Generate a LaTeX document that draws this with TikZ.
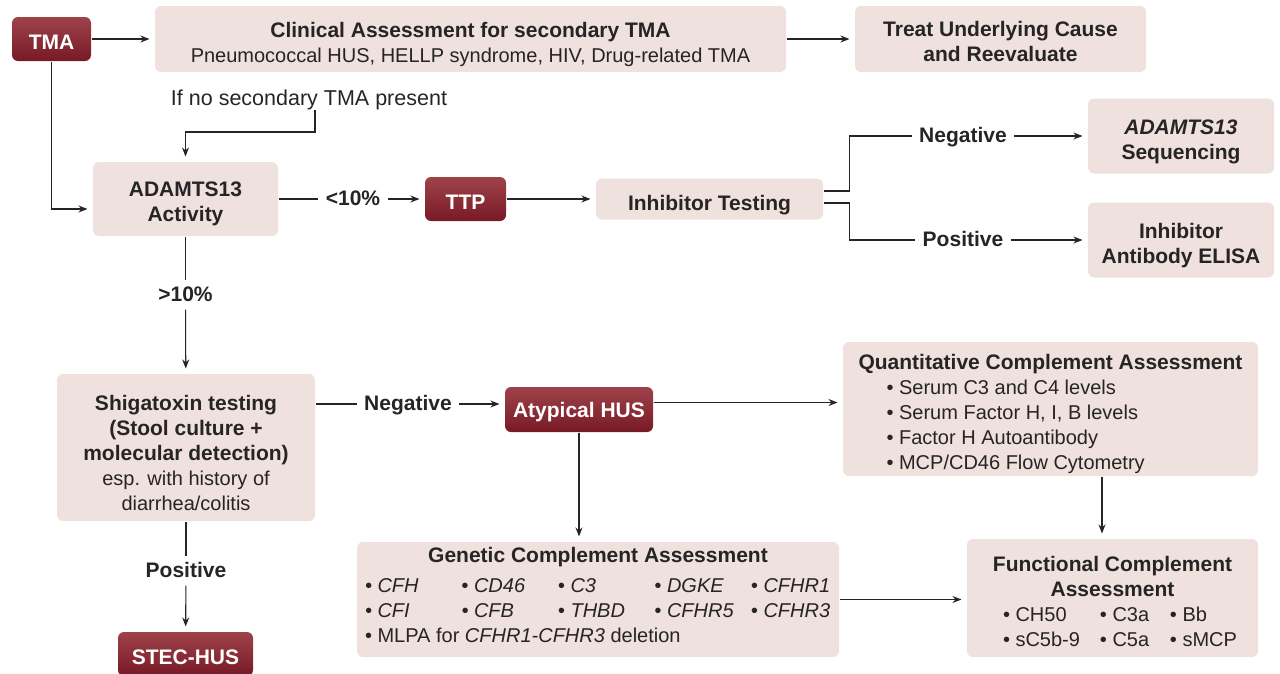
\documentclass[tikz,border=0pt]{standalone}
\usepackage{fontspec}
\setmainfont{Liberation Sans}
\usetikzlibrary{arrows.meta,positioning}

\definecolor{boxpink}{RGB}{238,225,222}
\definecolor{darkred}{RGB}{120,26,38}
\definecolor{lightred}{RGB}{158,66,74}
\definecolor{inkgray}{RGB}{38,36,36}
\newcommand{\regtxt}{\fontsize{20}{25}\selectfont\mdseries}
\newcommand{\boldtxt}{\fontsize{21}{25}\selectfont\bfseries}

\tikzset{
  textdown/.style={execute at begin node={\vbox\bgroup\kern#1\hbox\bgroup},
    execute at end node={\egroup\egroup}},
  pinkbox/.style={fill=boxpink, rounded corners=6pt, align=center, inner sep=0pt, font=\boldtxt, textdown=10pt},
  redbox/.style={top color=lightred, bottom color=darkred, draw=none, rounded corners=6pt, text=white,
    inner sep=0pt, font=\boldtxt, textdown=6pt},
  lbl/.style={inner xsep=7pt, inner ysep=5pt, text height=15pt, text depth=3pt, font=\boldtxt},
  arr/.style={-{Stealth[length=9pt,width=7pt]}, shorten >=5pt},
}

\begin{document}
\begin{tikzpicture}[x=1pt, y=-1pt, color=inkgray, line width=1.1pt]
  \useasboundingbox (0,0) rectangle (1280,673);

  % top row
  \node[redbox, minimum width=79pt, minimum height=44pt] (tma) at (51.5,39) {TMA};
  \node[pinkbox, minimum width=631pt, minimum height=66pt] (clin) at (470.5,39)
    {Clinical Assessment for secondary TMA\\ \regtxt Pneumococcal HUS, HELLP syndrome, HIV, Drug-related TMA};
  \node[pinkbox, minimum width=291pt, minimum height=66pt, textdown=-5pt] (treat) at (1000.5,39)
    {Treat Underlying Cause\\and Reevaluate};
  \node[inner sep=2pt, font=\fontsize{21.5}{25}\selectfont] (ifno) at (309,100) {If no secondary TMA present};
  \coordinate (ifnotail) at (315,110);

  % ADAMTS13 branch
  \node[pinkbox, minimum width=185pt, minimum height=74pt] (adamts) at (185.5,199) {ADAMTS13\\Activity};
  \node[lbl] (lt10) at (353,199) {<10\%};
  \node[redbox, minimum width=81pt, minimum height=44pt] (ttp) at (465.5,199) {TTP};
  \node[pinkbox, minimum width=227pt, minimum height=41pt, textdown=3pt] (inhib) at (709.5,199) {Inhibitor Testing};
  \node[lbl] (neg1) at (963,136) {Negative};
  \node[lbl] (pos1) at (963,240) {Positive};
  \node[pinkbox, minimum width=186pt, minimum height=75pt, textdown=1pt] (seq) at (1181,136) {\textit{ADAMTS13}\\Sequencing};
  \node[pinkbox, minimum width=186pt, minimum height=75pt, textdown=1pt] (elisa) at (1181,240) {Inhibitor\\Antibody ELISA};
  \node[lbl] (gt10) at (185.5,295) {>10\%};

  % shigatoxin and aHUS
  \node[pinkbox, minimum width=258pt, minimum height=147pt, textdown=0pt] (shiga) at (186,447.5)
    {Shigatoxin testing\\(Stool culture +\\molecular detection)\\ \regtxt esp. with history of\\ \regtxt diarrhea/colitis};
  \node[lbl] (neg2) at (408,404) {Negative};
  \node[redbox, minimum width=148pt, minimum height=45pt] (ahus) at (579,409.5) {Atypical HUS};
  \node[lbl] (pos2) at (186,571) {Positive};
  \node[redbox, minimum width=135pt, minimum height=44pt] (stec) at (185.5,654) {STEC-HUS};

  % complement assessment
  \node[pinkbox, minimum width=415pt, minimum height=134pt, align=left] (quant) at (1050.5,409)
    {Quantitative Complement Assessment\\ \regtxt
     \hspace*{28pt}\textbullet\ Serum C3 and C4 levels\\ \regtxt
     \hspace*{28pt}\textbullet\ Serum Factor H, I, B levels\\ \regtxt
     \hspace*{28pt}\textbullet\ Factor H Autoantibody\\ \regtxt
     \hspace*{28pt}\textbullet\ MCP/CD46 Flow Cytometry};
  \node[pinkbox, minimum width=482pt, minimum height=115pt, align=left, textdown=-19pt] (genetic) at (598,599.5)
    {\makebox[466pt]{Genetic Complement Assessment}\\[5pt] \regtxt\itshape
     \makebox[96.5pt][l]{\textbullet\ CFH}\makebox[96.5pt][l]{\textbullet\ CD46}\makebox[96.5pt][l]{\textbullet\ C3}\makebox[96.5pt][l]{\textbullet\ DGKE}\makebox[80pt][l]{\textbullet\ CFHR1}\\ \regtxt\itshape
     \makebox[96.5pt][l]{\textbullet\ CFI}\makebox[96.5pt][l]{\textbullet\ CFB}\makebox[96.5pt][l]{\textbullet\ THBD}\makebox[96.5pt][l]{\textbullet\ CFHR5}\makebox[80pt][l]{\textbullet\ CFHR3}\\ \regtxt\upshape
     \textbullet\ MLPA for \textit{CFHR1-CFHR3} deletion};
  \node[pinkbox, minimum width=291pt, minimum height=118pt, textdown=-3pt] (functional) at (1112.5,598)
    {Functional Complement\\Assessment\\ \regtxt
     \makebox[97pt][l]{\textbullet\ CH50}\makebox[70pt][l]{\textbullet\ C3a}\makebox[52pt][l]{\textbullet\ Bb}\\ \regtxt
     \makebox[97pt][l]{\textbullet\ sC5b-9}\makebox[70pt][l]{\textbullet\ C5a}\makebox[52pt][l]{\textbullet\ sMCP}};

  % connectors
  \draw[arr] (tma) -- (clin);
  \draw[arr] (clin) -- (treat);
  \draw[arr] (ifnotail) -- ++(0,22) -| (adamts.north);
  \draw[arr] (tma.south) |- ([yshift=-10pt]adamts.west);
  \draw (adamts) -- (lt10);
  \draw[arr] (lt10) -- (ttp);
  \draw[arr] (ttp) -- (inhib);
  \draw ([yshift=8pt]inhib.east) -- ++(26,0) |- (neg1.west);
  \draw ([yshift=-4pt]inhib.east) -- ++(26,0) |- (pos1.west);
  \draw[arr] (neg1) -- (seq);
  \draw[arr] (pos1) -- (elisa);
  \draw (adamts) -- (gt10);
  \draw[arr] (gt10) -- (shiga);
  \draw (neg2.west -| shiga.east) -- (neg2.west);
  \draw[arr] (neg2) -- (neg2 -| ahus.west);
  \coordinate (ahusout) at ([yshift=7pt]ahus.east);
  \draw[arr] (ahusout) -- (ahusout -| quant.west);
  \draw[arr] (ahus.south) -- (ahus.south |- genetic.north);
  \coordinate (qdown) at ([xshift=51.5pt]quant.south);
  \draw[arr] (qdown) -- (qdown |- functional.north);
  \draw[arr] (genetic) -- (genetic -| functional.west);
  \draw (shiga) -- (pos2);
  \draw[arr] (pos2) -- (stec);
\end{tikzpicture}
\end{document}
